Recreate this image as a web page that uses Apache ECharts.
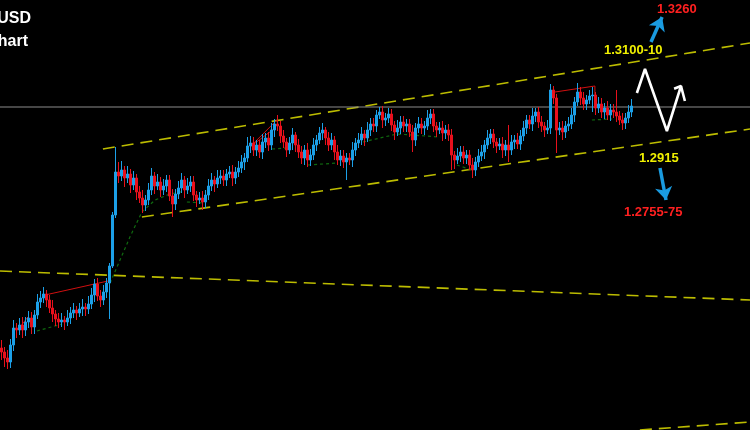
<!DOCTYPE html>
<html><head><meta charset="utf-8">
<script src="https://cdn.jsdelivr.net/npm/echarts@6/dist/echarts.min.js"></script>
<style>html,body{margin:0;padding:0;background:#000;overflow:hidden}#c{width:750px;height:430px}</style>
</head><body><div id="c"></div>
<script>
// GBPUSD candles (price values)
const opens=[1.2388,1.2378,1.2363,1.2353,1.23955,1.2438,1.2433,1.24455,1.2433,1.2453,
1.2463,1.24405,1.24705,1.2503,1.2513,1.2523,1.2508,1.2488,1.2473,1.24605,
1.2453,1.2458,1.2453,1.2463,1.24755,1.2483,1.24755,1.24855,1.24905,1.24855,
1.2498,1.25205,1.2548,1.2518,1.2508,1.2528,1.25505,1.2593,1.27205,1.2828,
1.2818,1.2833,1.2813,1.2823,1.27955,1.2813,1.2778,1.2763,1.27455,1.2758,
1.2783,1.2818,1.2793,1.2803,1.2783,1.2793,1.2808,1.2768,1.2748,1.2773,
1.2788,1.2808,1.2783,1.2793,1.2803,1.27705,1.2758,1.2763,1.2753,1.27705,
1.2793,1.2808,1.2798,1.2813,1.2818,1.2808,1.2823,1.2828,1.2813,1.2828,
1.2838,1.2853,1.2863,1.2893,1.29005,1.2883,1.28955,1.2878,1.2903,1.2913,
1.28955,1.2933,1.2948,1.2943,1.2918,1.2903,1.2883,1.29005,1.29205,1.28955,
1.2878,1.2863,1.2883,1.2858,1.28705,1.28955,1.2908,1.29255,1.2933,1.2913,
1.28955,1.2908,1.2878,1.2858,1.2868,1.2853,1.2863,1.2858,1.2883,1.29005,
1.2908,1.2923,1.2913,1.2933,1.2948,1.2943,1.29705,1.2978,1.2958,1.2963,
1.2973,1.29455,1.2928,1.2938,1.2953,1.2943,1.2948,1.2928,1.2908,1.2938,
1.2948,1.2938,1.2943,1.2963,1.2973,1.2943,1.2933,1.2938,1.29255,1.2933,
1.29205,1.28705,1.2858,1.2868,1.2878,1.2863,1.28705,1.28455,1.2833,1.2853,
1.2868,1.2878,1.28955,1.2913,1.2923,1.2903,1.2893,1.2898,1.2883,1.28955,
1.2883,1.2903,1.2908,1.2898,1.2918,1.2938,1.2958,1.2948,1.2968,1.2978,
1.2953,1.2943,1.2933,1.2938,1.3033,1.3013,1.2933,1.2938,1.2928,1.2943,
1.2948,1.29705,1.3003,1.3028,1.3013,1.2998,1.3008,1.3018,1.30205,1.2988,
1.2998,1.2978,1.2988,1.29705,1.2983,1.2978,1.2968,1.2958,1.29505,1.2963,
1.2978];
const closes=[1.2378,1.2363,1.2353,1.23955,1.2438,1.2433,1.24455,1.2433,1.2453,1.2463,
1.24405,1.24705,1.2503,1.2513,1.2523,1.2508,1.2488,1.2473,1.24605,1.2453,
1.2458,1.2453,1.2463,1.24755,1.2483,1.24755,1.24855,1.24905,1.24855,1.2498,
1.25205,1.2548,1.2518,1.2508,1.2528,1.25505,1.2593,1.27205,1.2828,1.2818,
1.2833,1.2813,1.2823,1.27955,1.2813,1.2778,1.2763,1.27455,1.2758,1.2783,
1.2818,1.2793,1.2803,1.2783,1.2793,1.2808,1.2768,1.2748,1.2773,1.2788,
1.2808,1.2783,1.2793,1.2803,1.27705,1.2758,1.2763,1.2753,1.27705,1.2793,
1.2808,1.2798,1.2813,1.2818,1.2808,1.2823,1.2828,1.2813,1.2828,1.2838,
1.2853,1.2863,1.2893,1.29005,1.2883,1.28955,1.2878,1.2903,1.2913,1.28955,
1.2933,1.2948,1.2943,1.2918,1.2903,1.2883,1.29005,1.29205,1.28955,1.2878,
1.2863,1.2883,1.2858,1.28705,1.28955,1.2908,1.29255,1.2933,1.2913,1.28955,
1.2908,1.2878,1.2858,1.2868,1.2853,1.2863,1.2858,1.2883,1.29005,1.2908,
1.2923,1.2913,1.2933,1.2948,1.2943,1.29705,1.2978,1.2958,1.2963,1.2973,
1.29455,1.2928,1.2938,1.2953,1.2943,1.2948,1.2928,1.2908,1.2938,1.2948,
1.2938,1.2943,1.2963,1.2973,1.2943,1.2933,1.2938,1.29255,1.2933,1.29205,
1.28705,1.2858,1.2868,1.2878,1.2863,1.28705,1.28455,1.2833,1.2853,1.2868,
1.2878,1.28955,1.2913,1.2923,1.2903,1.2893,1.2898,1.2883,1.28955,1.2883,
1.2903,1.2908,1.2898,1.2918,1.2938,1.2958,1.2948,1.2968,1.2978,1.2953,
1.2943,1.2933,1.2938,1.3033,1.3013,1.2933,1.2938,1.2928,1.2943,1.2948,
1.29705,1.3003,1.3028,1.3013,1.2998,1.3008,1.3018,1.30205,1.2988,1.2998,
1.2978,1.2988,1.29705,1.2983,1.2978,1.2968,1.2958,1.29505,1.2963,1.2978,
1.2993];
const lows=[1.2358,1.23405,1.23355,1.2338,1.23805,1.2413,1.24205,1.2413,1.2418,1.2438,
1.2423,1.2423,1.24605,1.2488,1.25005,1.24905,1.24755,1.2453,1.2443,1.2438,
1.24405,1.2433,1.2443,1.2448,1.2463,1.2458,1.24655,1.2468,1.2468,1.2473,
1.24855,1.2503,1.25055,1.24905,1.24955,1.2513,1.24605,1.2588,1.2713,1.28005,
1.28055,1.27905,1.28005,1.27755,1.2783,1.2758,1.27505,1.27255,1.27305,1.27455,
1.27705,1.2773,1.2783,1.27655,1.27705,1.2778,1.27555,1.27155,1.2733,1.27605,
1.27755,1.2763,1.2773,1.2778,1.27555,1.27405,1.2748,1.2733,1.2738,1.2758,
1.27805,1.2778,1.2788,1.2798,1.2793,1.2793,1.2813,1.2793,1.2798,1.28155,
1.28255,1.2833,1.2853,1.28755,1.2868,1.2868,1.2863,1.28605,1.2888,1.28805,
1.2883,1.29155,1.29305,1.29005,1.2888,1.28655,1.2873,1.2883,1.2878,1.2863,
1.2848,1.28455,1.28405,1.2843,1.2858,1.28805,1.2898,1.2908,1.28955,1.28805,
1.2883,1.2858,1.28455,1.2843,1.2838,1.2808,1.28455,1.28405,1.2868,1.2888,
1.28955,1.2893,1.2903,1.2918,1.2928,1.2928,1.29605,1.2938,1.2943,1.29505,
1.29305,1.2908,1.2918,1.2923,1.2928,1.2928,1.29155,1.2878,1.2893,1.29255,
1.2923,1.29205,1.2933,1.2948,1.2928,1.29155,1.2923,1.29055,1.29105,1.29055,
1.2833,1.28355,1.2848,1.2853,1.2848,1.2848,1.2833,1.2813,1.2818,1.28405,
1.28555,1.28605,1.28855,1.2898,1.2888,1.28755,1.2883,1.2863,1.2868,1.2853,
1.28705,1.28855,1.28855,1.2883,1.29055,1.2923,1.29355,1.29305,1.2953,1.2938,
1.2928,1.29155,1.2923,1.2923,1.2998,1.28755,1.29205,1.2908,1.2913,1.29305,
1.29355,1.2953,1.2993,1.29955,1.2983,1.2983,1.2998,1.2978,1.29705,1.29755,
1.2963,1.29605,1.2958,1.29555,1.2963,1.2953,1.29455,1.2933,1.29355,1.29505,
1.29655];
const highs=[1.2408,1.23905,1.2383,1.24105,1.2458,1.24505,1.2463,1.24655,1.24655,1.24805,
1.2478,1.2483,1.2523,1.25305,1.25405,1.2533,1.25205,1.2508,1.2483,1.24755,
1.24755,1.2468,1.2483,1.24905,1.25005,1.2493,1.25005,1.25105,1.25005,1.2518,
1.2538,1.25605,1.2563,1.2533,1.25455,1.2563,1.26005,1.2728,1.28905,1.2853,
1.28555,1.2843,1.2843,1.28355,1.28305,1.2823,1.2793,1.2783,1.27705,1.28005,
1.2838,1.2828,1.2823,1.28155,1.28105,1.28205,1.28205,1.27855,1.27855,1.28055,
1.28255,1.2818,1.2813,1.2818,1.2818,1.27805,1.2778,1.27805,1.2783,1.28105,
1.28255,1.2818,1.2833,1.2833,1.2833,1.28355,1.2843,1.28455,1.28405,1.28555,
1.28705,1.28755,1.29155,1.2918,1.29155,1.2908,1.2908,1.2923,1.29255,1.2928,
1.29505,1.29605,1.29705,1.29555,1.2933,1.2913,1.29155,1.2938,1.2928,1.29105,
1.2893,1.28955,1.29005,1.28855,1.2913,1.29205,1.29405,1.29505,1.29405,1.2928,
1.29255,1.2918,1.28955,1.2883,1.2883,1.28755,1.28755,1.2903,1.2913,1.29255,
1.29405,1.2933,1.2953,1.2963,1.2963,1.2983,1.29905,1.2993,1.29755,1.2988,
1.29855,1.29555,1.2958,1.2968,1.2968,1.29605,1.29605,1.29455,1.29505,1.29655,
1.2963,1.29555,1.2983,1.29855,1.29855,1.2953,1.2953,1.29555,1.29455,1.2948,
1.29355,1.28805,1.2888,1.2893,1.2893,1.2883,1.2883,1.2863,1.28655,1.28855,
1.28955,1.2908,1.2933,1.29355,1.29355,1.2913,1.2913,1.29155,1.2908,1.29455,
1.29205,1.29205,1.29255,1.2933,1.29555,1.29705,1.29705,1.2988,1.2988,1.29905,
1.2968,1.2953,1.2958,1.3048,1.3043,1.3023,1.2953,1.29555,1.29555,1.29655,
1.2988,1.30155,1.30505,1.30405,1.3028,1.30205,1.3033,1.30405,1.3028,1.30155,
1.3013,1.30005,1.30055,1.2998,1.2998,1.3033,1.29805,1.29755,1.29755,1.29955,
1.30105];

// chart frame: total hourly slots (right side left empty like the platform's chart shift)
const slotCount=250;
const priceMin=1.2183, priceMax=1.3258;
const currentPrice=1.29905;

// trend lines: [slot, price] pairs
const channelUpper=[[33.8,1.28855],[249.5,1.31505]];
const channelLower=[[46.8,1.27155],[249.5,1.29355]];
const longTrend=[[-0.5,1.25805],[249.5,1.2508]];
const lowerTrend=[[212.8,1.2183],[249.5,1.2203]];
const redLines=[
  [[6.2,1.24405],[8.8,1.24655]],
  [[14.5,1.25205],[35.5,1.25555]],
  [[82.8,1.28905],[91.8,1.2958]],
  [[82.8,1.28905],[91.2,1.2938]],
  [[184.5,1.3028],[197.8,1.3043],[197.8,1.2993]]
];
const greenLines=[
  [[11.8,1.24305],[20.2,1.2448]],
  [[36.2,1.25505],[39.5,1.2608],[42.8,1.26655],[46.8,1.2728],[51.2,1.2758],[56.2,1.2773],[61.2,1.27805]],
  [[61.8,1.2753],[67.8,1.27505]],
  [[90.2,1.28855],[95.2,1.2888]],
  [[102.2,1.28455],[112.2,1.28505]],
  [[120.5,1.2903],[131.8,1.2923],[146.2,1.29155]],
  [[151.8,1.28455],[156.8,1.2833]],
  [[196.8,1.2958],[203.5,1.29605]]
];
const zigzag=[[211.8,1.30255],[214.5,1.30855],[221.8,1.29305],[226.5,1.3043]];
const zigzagHead=[[224.2,1.3036],[226.5,1.3043],[227.8,1.30055]];
const arrowUp=[[216.5,1.3153],[220.2,1.32155]];
const arrowDown=[[219.5,1.2838],[221.5,1.2758]];

const categories=Array.from({length:slotCount},(_,i)=>'H'+i);
const candleData=categories.map((_,i)=> i<closes.length ? [opens[i],closes[i],lows[i],highs[i]] : '-');

function seg(data,color,width,type){
  return {type:'line',xAxisIndex:1,yAxisIndex:0,data:data,symbol:'none',silent:true,
    lineStyle:{color:color,width:width,type:type||'solid'},z:type? 3:4};
}

const series=[
  seg([[-0.5,currentPrice],[249.5,currentPrice]],'#8c8c8c',1),
  seg(channelUpper,'#bcbc00',1.6,[12,7]),
  seg(channelLower,'#bcbc00',1.6,[12,7]),
  seg(longTrend,'#bcbc00',1.6,[12,7]),
  seg(lowerTrend,'#bcbc00',1.6,[12,7]),
];
greenLines.forEach(g=>series.push(seg(g,'#0f6a0f',1.2,[3,3])));
redLines.forEach(r=>series.push(seg(r,'#d01010',1)));
series.push({type:'candlestick',xAxisIndex:0,yAxisIndex:0,data:candleData,barWidth:1.6,z:5,
  itemStyle:{color:'#1ca0e8',color0:'#e8101c',borderColor:'#1ca0e8',borderColor0:'#e8101c',borderWidth:1}});
series.push(seg(zigzag,'#ffffff',2.6));
series.push(seg(zigzagHead,'#ffffff',2.6));
series.push({type:'lines',coordinateSystem:'cartesian2d',xAxisIndex:1,yAxisIndex:0,
  symbol:['none','arrow'],symbolSize:13,silent:true,
  lineStyle:{color:'#1a9be0',width:3.5,opacity:1},
  data:[{coords:arrowUp},{coords:arrowDown}]});

const chart=echarts.init(document.getElementById('c'),null,{renderer:'canvas'});
chart.setOption({
  backgroundColor:'#000000',
  animation:false,
  grid:{left:0,right:0,top:0,bottom:0},
  xAxis:[
    {type:'category',data:categories,show:false,boundaryGap:true},
    {type:'value',min:-0.5,max:249.5,show:false}
  ],
  yAxis:{type:'value',min:priceMin,max:priceMax,show:false,splitLine:{show:false}},
  series:series,
  graphic:[
    {type:'text',z:10,style:{text:'GBPUSD',x:31,y:19,align:'right',verticalAlign:'middle',font:'bold 16px "Liberation Sans"',fill:'#ffffff'}},
    {type:'text',z:10,style:{text:'Chart',x:28,y:42,align:'right',verticalAlign:'middle',font:'bold 16px "Liberation Sans"',fill:'#ffffff'}},
    {type:'text',z:10,style:{text:'1.3260',x:657,y:9,verticalAlign:'middle',font:'bold 13px "Liberation Sans"',fill:'#ff2020'}},
    {type:'text',z:10,style:{text:'1.3100-10',x:604,y:50,verticalAlign:'middle',font:'bold 13px "Liberation Sans"',fill:'#f0f000'}},
    {type:'text',z:10,style:{text:'1.2915',x:639,y:158,verticalAlign:'middle',font:'bold 13px "Liberation Sans"',fill:'#f0f000'}},
    {type:'text',z:10,style:{text:'1.2755-75',x:624,y:212,verticalAlign:'middle',font:'bold 13px "Liberation Sans"',fill:'#ff2020'}}
  ]
});
</script>
</body></html>
